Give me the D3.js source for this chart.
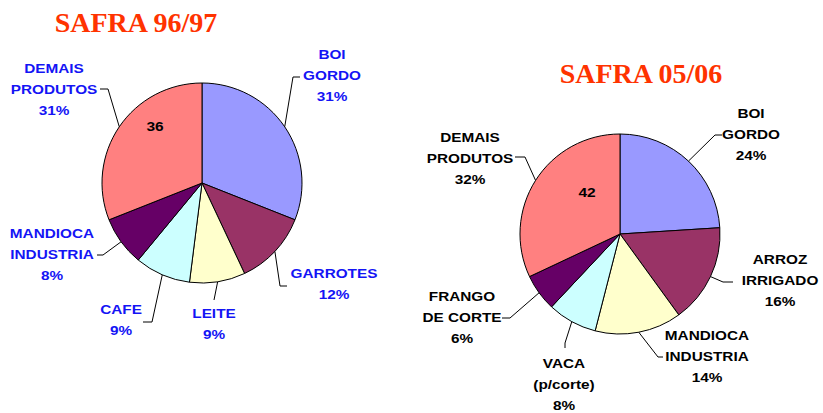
<!DOCTYPE html>
<html>
<head>
<meta charset="utf-8">
<script src="https://cdn.jsdelivr.net/npm/d3@7"></script>
<style>
  html, body { margin: 0; padding: 0; background: #ffffff; }
  svg { display: block; }
</style>
</head>
<body>
<svg id="chart" width="823" height="413"></svg>
<script>
// Share of production value by product, two crop seasons
const leftTitle = "SAFRA 96/97";
const leftCategories = ["BOI\nGORDO", "GARROTES", "LEITE", "CAFE", "MANDIOCA\nINDUSTRIA", "DEMAIS\nPRODUTOS"];
const leftValues = [31, 12, 9, 9, 8, 31];
const leftCount = "36";

const rightTitle = "SAFRA 05/06";
const rightCategories = ["BOI\nGORDO", "ARROZ\nIRRIGADO", "MANDIOCA\nINDUSTRIA", "VACA\n(p/corte)", "FRANGO\nDE CORTE", "DEMAIS\nPRODUTOS"];
const rightValues = [24, 16, 14, 8, 6, 32];
const rightCount = "42";

const sliceColors = ["#9999FF", "#993366", "#FFFFCC", "#CCFFFF", "#660066", "#FF8080"];

// Layout of each pie: centre, radius, title and label placement
const leftLayout = {
  cx: 202, cy: 183, r: 100,
  title: { x: 136, y: 32 },
  count: { x: 155, y: 126 },
  textColor: "#1414F5",
  labels: [
    { x: 332, y: 54, elbow: [293, 77], end: [300, 77] },
    { x: 334, y: 273, elbow: [280, 286], end: [287, 286] },
    { x: 214, y: 313, elbow: [214, 300], end: [214, 300] },
    { x: 121, y: 309, elbow: [152, 322], end: [143, 322] },
    { x: 52, y: 233, elbow: [103, 255], end: [97, 255] },
    { x: 54, y: 68, elbow: [108, 89], end: [100, 89] }
  ]
};
const rightLayout = {
  cx: 620, cy: 234, r: 100,
  title: { x: 641, y: 83 },
  count: { x: 587, y: 192 },
  textColor: "#000000",
  labels: [
    { x: 751, y: 113, elbow: [715, 135], end: [722, 135] },
    { x: 780, y: 259, elbow: [723, 282], end: [733, 282] },
    { x: 707, y: 335, elbow: [658, 357], end: [663, 357] },
    { x: 564, y: 363, elbow: [565, 343], end: [565, 348] },
    { x: 462, y: 296, elbow: [510, 318], end: [502, 318] },
    { x: 470, y: 137, elbow: [525, 157], end: [515, 157] }
  ]
};

const svg = d3.select("#chart");
const lineStep = 21;

function drawPie(title, categories, values, count, layout) {
  const g = svg.append("g");

  g.append("text")
    .attr("x", layout.title.x)
    .attr("y", layout.title.y)
    .attr("text-anchor", "middle")
    .attr("font-family", "'Liberation Serif', 'Times New Roman', serif")
    .attr("font-weight", "bold")
    .attr("font-size", 28)
    .attr("fill", "#FF3300")
    .text(title);

  const pie = d3.pie().sort(null).value(d => d.value);
  const arcs = pie(categories.map((c, i) => ({ name: c, value: values[i], color: sliceColors[i] })));
  const arc = d3.arc().innerRadius(0).outerRadius(layout.r);

  const pg = g.append("g").attr("transform", `translate(${layout.cx},${layout.cy})`);
  pg.selectAll("path")
    .data(arcs)
    .join("path")
    .attr("d", arc)
    .attr("fill", d => d.data.color)
    .attr("stroke", "#000")
    .attr("stroke-width", 1)
    .attr("stroke-linejoin", "round");

  // leader lines from the middle of each slice's rim
  arcs.forEach((d, i) => {
    const lab = layout.labels[i];
    const mid = (d.startAngle + d.endAngle) / 2;
    const px = layout.cx + layout.r * Math.sin(mid);
    const py = layout.cy - layout.r * Math.cos(mid);
    g.append("path")
      .attr("d", d3.line()([[px, py], lab.elbow, lab.end]))
      .attr("fill", "none")
      .attr("stroke", "#000")
      .attr("stroke-width", 1);
  });

  // category name and share
  arcs.forEach((d, i) => {
    const lab = layout.labels[i];
    const lines = d.data.name.split("\n").concat([d.data.value + "%"]);
    const tg = g.append("g").attr("transform", `translate(${lab.x},${lab.y}) scale(1.18,1)`);
    lines.forEach((t, k) => {
      tg.append("text")
        .attr("x", 0)
        .attr("y", k * lineStep + 4.6)
        .attr("text-anchor", "middle")
        .attr("font-family", "'Liberation Sans', Arial, sans-serif")
        .attr("font-weight", "bold")
        .attr("font-size", 13)
        .attr("fill", layout.textColor)
        .text(t);
    });
  });

  g.append("text")
    .attr("transform", `translate(${layout.count.x},${layout.count.y + 4.8}) scale(1.15,1)`)
    .attr("text-anchor", "middle")
    .attr("font-family", "'Liberation Sans', Arial, sans-serif")
    .attr("font-weight", "bold")
    .attr("font-size", 13.5)
    .attr("fill", "#000")
    .text(count);
}

drawPie(leftTitle, leftCategories, leftValues, leftCount, leftLayout);
drawPie(rightTitle, rightCategories, rightValues, rightCount, rightLayout);
</script>
</body>
</html>
